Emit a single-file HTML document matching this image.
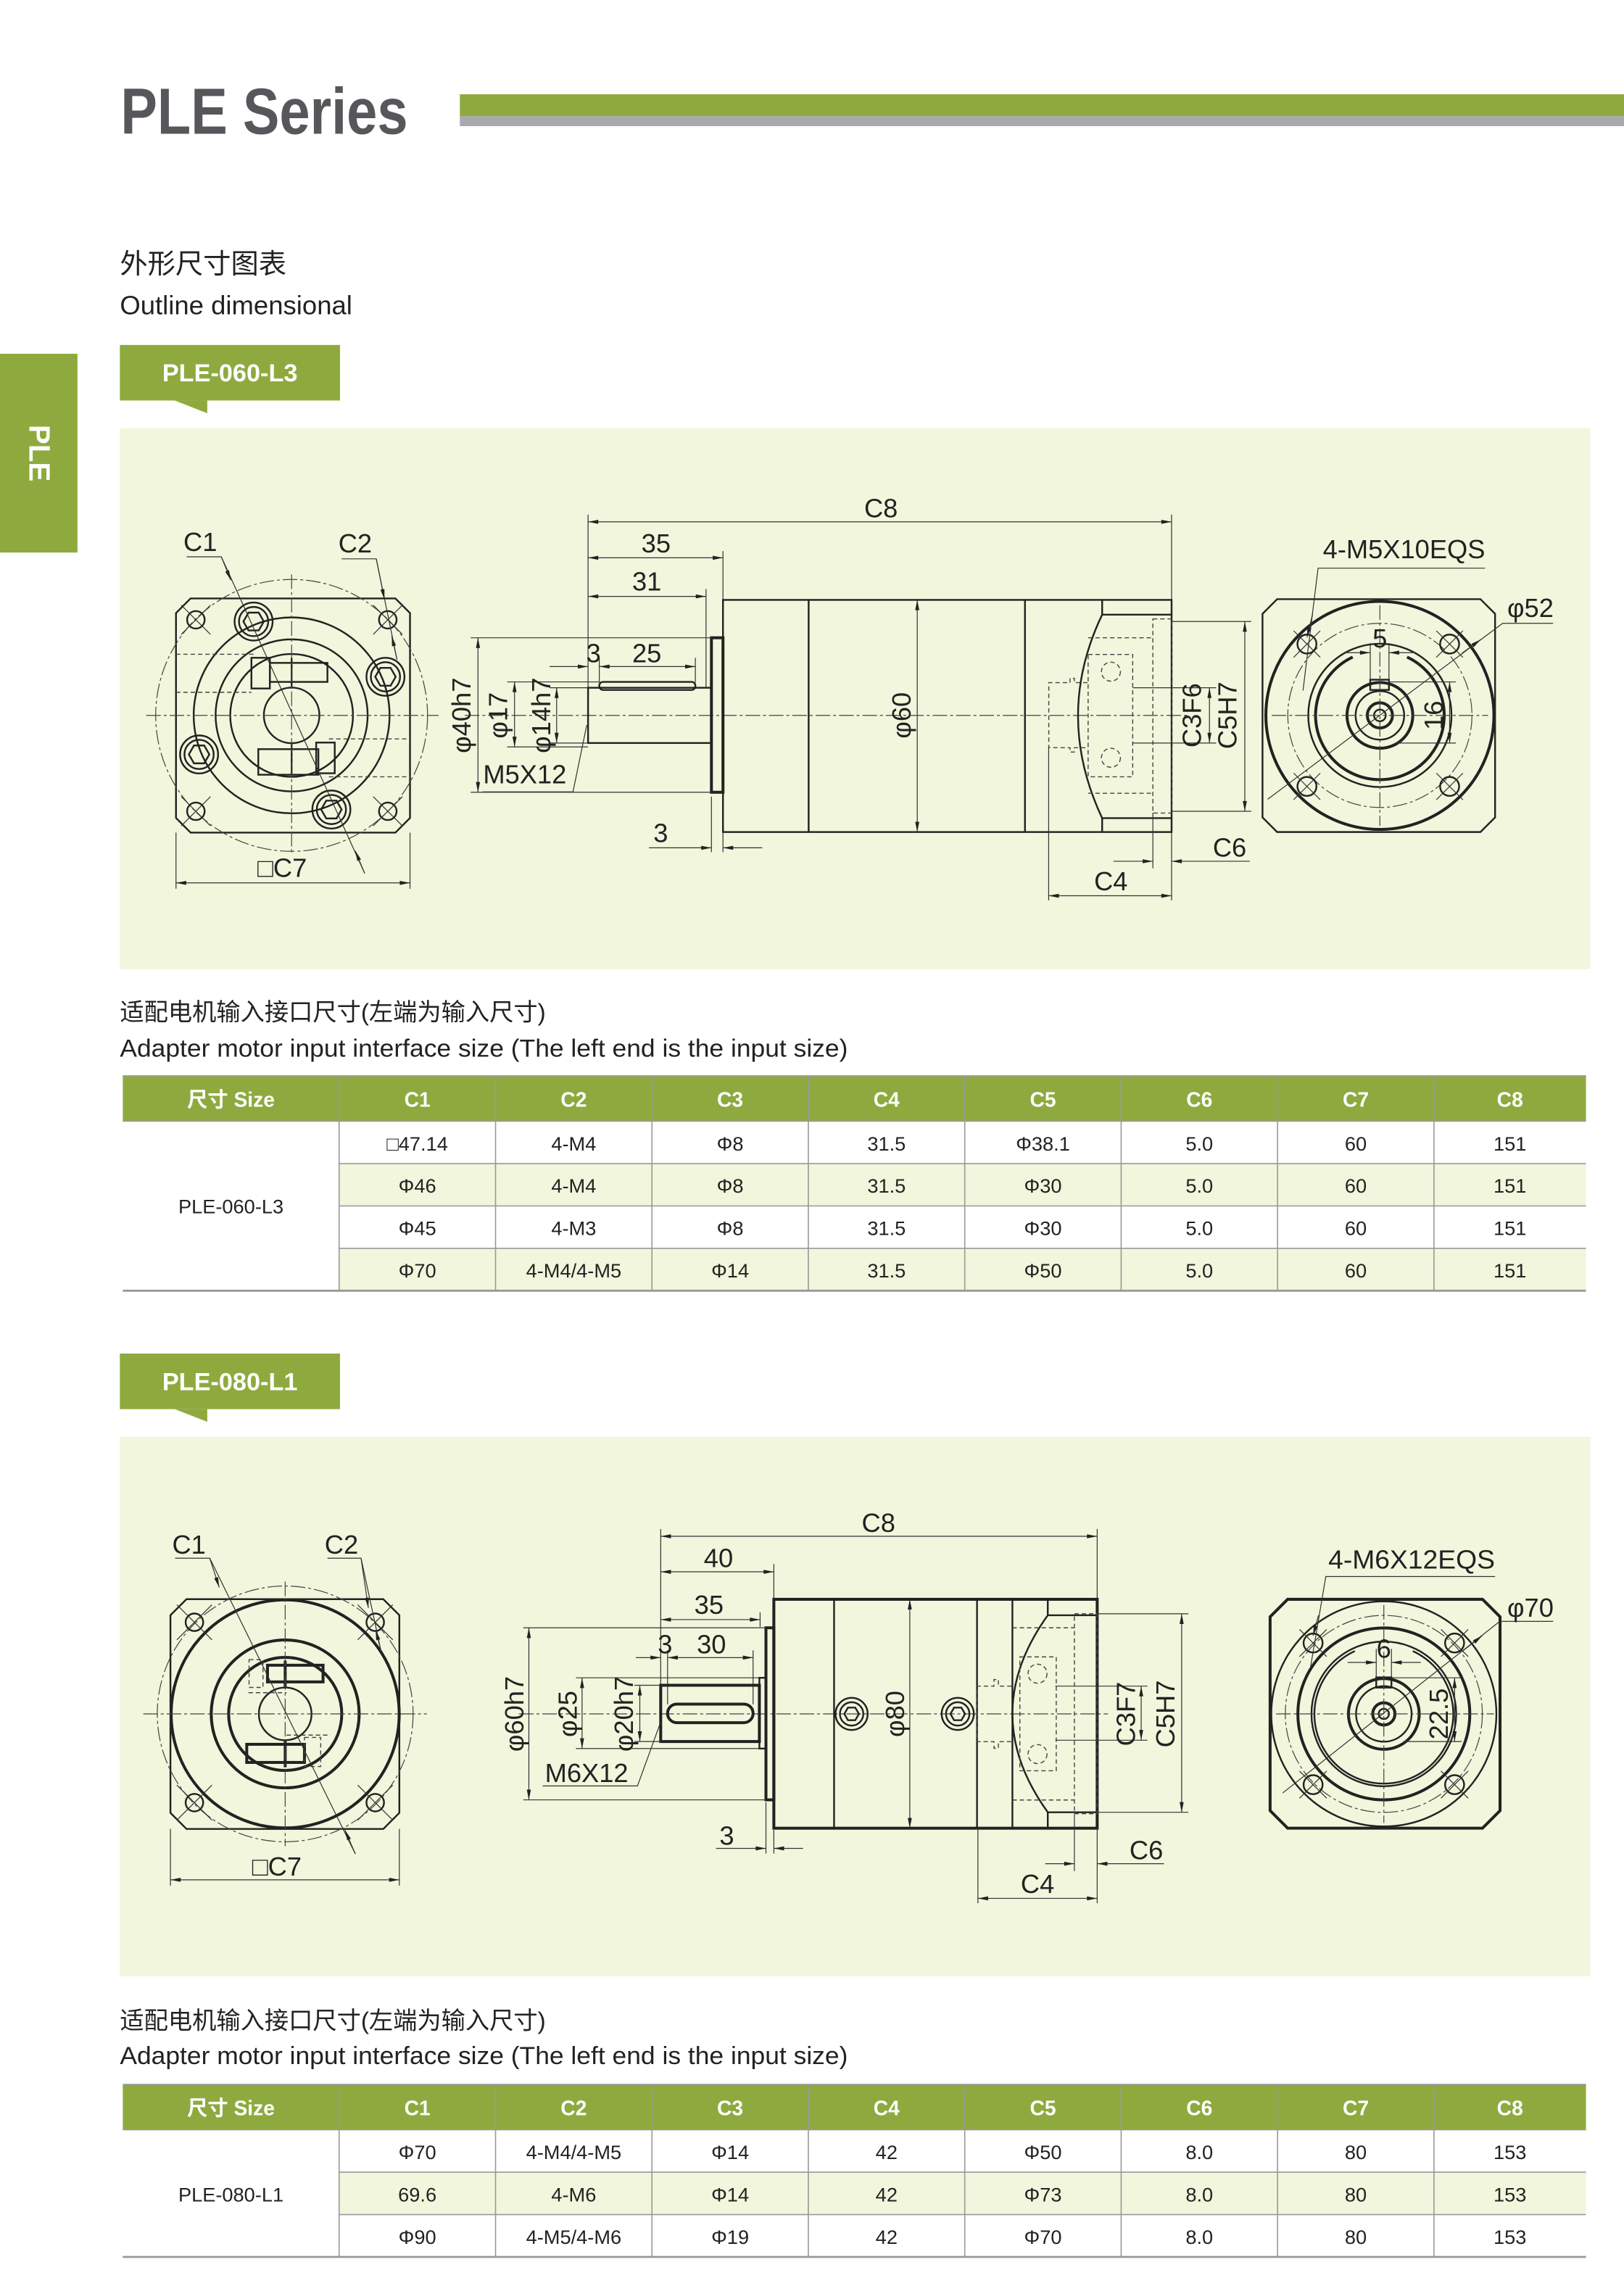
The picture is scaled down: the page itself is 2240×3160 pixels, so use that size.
<!DOCTYPE html>
<html><head><meta charset="utf-8"><style>
html,body{margin:0;padding:0;background:#fff}
svg{display:block}
text{font-family:"Liberation Sans","Noto Sans CJK SC",sans-serif}
.k{fill:none;stroke:#222;stroke-width:1.2}
.T{fill:none;stroke:#222;stroke-width:2}
.n{fill:none;stroke:#333;stroke-width:0.6}
.d{fill:none;stroke:#444;stroke-width:0.7;stroke-dasharray:3 2}
.c{fill:none;stroke:#444;stroke-width:0.6;stroke-dasharray:10 2 2 2}
.dm{fill:none;stroke:#333;stroke-width:0.6;marker-start:url(#a);marker-end:url(#a)}
.de{fill:none;stroke:#333;stroke-width:0.6;marker-end:url(#a)}
.L{font-size:18px;fill:#222}
.th{font-size:14px;fill:#fff;font-weight:bold}
.td{font-size:13.5px;fill:#222}
</style></head><body>
<svg width="2240" height="3160" viewBox="0 0 1111 1567.3" preserveAspectRatio="none" xmlns="http://www.w3.org/2000/svg">
<defs>
<marker id="a" viewBox="0 0 10 4" refX="10" refY="2" markerWidth="8" markerHeight="2.8" markerUnits="userSpaceOnUse" orient="auto-start-reverse"><path d="M0,0L10,2L0,4z" fill="#222"/></marker>
</defs>
<rect width="1111" height="1567.3" fill="#fff"/>
<!-- header -->
<text x="82.5" y="91.5" font-size="44.6" font-weight="bold" fill="#55575a" textLength="196.5" lengthAdjust="spacingAndGlyphs">PLE Series</text>
<rect x="314.6" y="64.5" width="796.4" height="15" fill="#8eaa3e"/>
<rect x="314.6" y="79.5" width="796.4" height="6.8" fill="#a7a9ac"/>
<rect x="0" y="242" width="53" height="136" fill="#8eaa3e"/>
<text x="0" y="0" transform="translate(20,310) rotate(90)" font-size="20" font-weight="bold" fill="#fff" text-anchor="middle">PLE</text>
<text x="82" y="187" font-size="19" fill="#222">外形尺寸图表</text>
<text x="82" y="215" font-size="18" fill="#222" textLength="159" lengthAdjust="spacingAndGlyphs">Outline dimensional</text>

<!-- label 1 -->
<rect x="82" y="236" width="150.6" height="38" fill="#8eaa3e"/>
<path d="M119.6,274L141.8,274L141.8,282.7z" fill="#8eaa3e"/>
<text x="157.3" y="261" font-size="17" font-weight="bold" fill="#fff" text-anchor="middle">PLE-060-L3</text>
<rect x="82" y="293" width="1006" height="370" fill="#f1f6dc"/>

<!-- DRAWING 1 left view -->
<g>
<polygon class="k" points="130.4,409.4 270.5,409.4 280.5,419.4 280.5,559.6 270.5,569.6 130.4,569.6 120.4,559.6 120.4,419.4"/>
<circle class="c" cx="199.5" cy="489.4" r="93"/>
<circle class="k" cx="199.5" cy="489.4" r="67"/>
<circle class="k" cx="199.5" cy="489.4" r="52"/>
<circle class="k" cx="199.5" cy="489.4" r="42"/>
<circle class="k" cx="199.5" cy="489.4" r="19"/>
<line class="d" x1="120.4" y1="447.6" x2="175" y2="447.6"/><line class="d" x1="120.4" y1="473.6" x2="172" y2="473.6"/>
<line class="d" x1="225" y1="505.5" x2="280.5" y2="505.5"/><line class="d" x1="225" y1="531.4" x2="280.5" y2="531.4"/>
<rect class="k" x="172" y="450" width="12.6" height="21"/><rect class="k" x="184.6" y="453.5" width="39.4" height="13"/>
<rect class="k" x="176.7" y="512.5" width="41.1" height="17.5"/><rect class="k" x="216.3" y="508" width="12.7" height="21"/>
<line class="k" x1="199.5" y1="450" x2="199.5" y2="471"/><line class="k" x1="199.5" y1="508" x2="199.5" y2="530"/>
<g id="hx1">
<circle class="k" cx="173.5" cy="425.2" r="13"/><circle class="k" cx="173.5" cy="425.2" r="10"/>
<polygon class="k" points="180.5,425.2 177,419.1 170,419.1 166.5,425.2 170,431.3 177,431.3"/>
</g>
<use href="#hx1" x="90.2" y="37.8"/><use href="#hx1" x="-37.3" y="90.9"/><use href="#hx1" x="53.2" y="128.6"/>
<g id="cr1">
<circle class="k" cx="134" cy="424" r="6"/><line class="n" x1="124" y1="414" x2="144" y2="434"/><line class="n" x1="144" y1="414" x2="124" y2="434"/>
</g>
<use href="#cr1" x="131.3" y="0"/><use href="#cr1" x="0" y="131"/><use href="#cr1" x="131.3" y="131"/>
<line class="c" x1="100" y1="489.4" x2="300" y2="489.4"/>
<line class="c" x1="199.5" y1="393" x2="199.5" y2="585"/>
<polyline class="n" points="127.7,380.9 151.4,380.9 249.5,597.5"/>
<line class="de" x1="151.4" y1="380.9" x2="158" y2="397"/>
<line class="de" x1="249.5" y1="597.5" x2="243" y2="582"/>
<polyline class="n" points="233.7,382.3 257.4,382.3 271.6,451.2"/>
<line class="de" x1="257.4" y1="382.3" x2="263" y2="410"/>
<line class="de" x1="271.6" y1="451.2" x2="268" y2="435"/>
<text class="L" x="137" y="377" text-anchor="middle">C1</text>
<text class="L" x="243" y="378" text-anchor="middle">C2</text>
<line class="n" x1="120.4" y1="569.6" x2="120.4" y2="608"/><line class="n" x1="280.5" y1="569.6" x2="280.5" y2="608"/>
<line class="dm" x1="120.4" y1="604" x2="280.5" y2="604"/>
<text class="L" x="193" y="600" text-anchor="middle">□C7</text>
</g>

<!-- DRAWING 1 side view -->
<g>
<line class="c" x1="318" y1="489.4" x2="812" y2="489.4"/>
<line class="n" x1="402.3" y1="352" x2="402.3" y2="470"/>
<line class="n" x1="801.5" y1="352" x2="801.5" y2="410"/>
<line class="dm" x1="402.3" y1="357" x2="801.5" y2="357"/>
<text class="L" x="602.7" y="354" text-anchor="middle">C8</text>
<line class="n" x1="494.6" y1="377" x2="494.6" y2="410"/>
<line class="dm" x1="402.3" y1="381.6" x2="494.6" y2="381.6"/>
<text class="L" x="448.8" y="378" text-anchor="middle">35</text>
<line class="n" x1="483" y1="403" x2="483" y2="470"/>
<line class="dm" x1="402.3" y1="408" x2="483" y2="408"/>
<text class="L" x="442.5" y="404" text-anchor="middle">31</text>
<line class="n" x1="410" y1="450" x2="410" y2="467"/><line class="n" x1="475.7" y1="450" x2="475.7" y2="467"/>
<line class="de" x1="376" y1="456" x2="402.3" y2="456"/>
<line class="dm" x1="410" y1="456" x2="475.7" y2="456"/>
<text class="L" x="406" y="453" text-anchor="middle">3</text>
<text class="L" x="442.5" y="453" text-anchor="middle">25</text>
<rect class="k" x="402.3" y="470.5" width="84.4" height="37.8"/>
<rect class="k" x="410" y="466.5" width="65.7" height="5.5" rx="2.5"/>
<rect class="T" x="486.7" y="436.3" width="7.9" height="105.7"/>
<rect class="k" x="494.6" y="410.4" width="306.9" height="158.8"/>
<line class="k" x1="553.2" y1="410.4" x2="553.2" y2="569.2"/>
<line class="k" x1="701.2" y1="410.4" x2="701.2" y2="569.2"/>
<line class="k" x1="754" y1="410.4" x2="754" y2="420.5"/><line class="k" x1="754" y1="559.7" x2="754" y2="569.2"/>
<line class="k" x1="754" y1="420.5" x2="801.5" y2="420.5"/><line class="k" x1="754" y1="559.7" x2="801.5" y2="559.7"/>
<path class="k" d="M754,420.5 Q721,489.4 754,559.7"/>
<rect class="d" x="788.7" y="423.4" width="12.8" height="132.8"/>
<path class="d" d="M744.4,436.3 H788.7 M744.4,542.7 H788.7"/>
<rect class="d" x="744.4" y="447.7" width="30.5" height="83.7"/>
<circle class="d" cx="760" cy="459.5" r="6.5"/><circle class="d" cx="760" cy="518.4" r="6.5"/>
<path class="d" d="M744,467 H735 V464 H732 V467 H717.5 V511.5 H732 V514.5 H735 V511.5 H744"/>
<line class="n" x1="774.9" y1="470.5" x2="832" y2="470.5"/><line class="n" x1="774.9" y1="508.3" x2="832" y2="508.3"/>
<line class="n" x1="801.5" y1="425.2" x2="856" y2="425.2"/><line class="n" x1="801.5" y1="555" x2="856" y2="555"/>
<line class="dm" x1="827.4" y1="470.5" x2="827.4" y2="508.3"/>
<line class="dm" x1="851.6" y1="425.2" x2="851.6" y2="555"/>
<text class="L" transform="translate(821.5,489.4) rotate(-90)" text-anchor="middle">C3F6</text>
<text class="L" transform="translate(846,489.4) rotate(-90)" text-anchor="middle">C5H7</text>
<line class="dm" x1="627.5" y1="410.4" x2="627.5" y2="569.2"/>
<text class="L" transform="translate(623,489.4) rotate(-90)" text-anchor="middle">φ60</text>
<line class="n" x1="717.4" y1="511" x2="717.4" y2="616"/>
<line class="n" x1="788.7" y1="556" x2="788.7" y2="594"/>
<line class="n" x1="801.5" y1="569.2" x2="801.5" y2="616"/>
<line class="de" x1="761.7" y1="589.2" x2="788.7" y2="589.2"/>
<line class="de" x1="855" y1="589.2" x2="801.5" y2="589.2"/>
<text class="L" x="841.2" y="586" text-anchor="middle">C6</text>
<line class="dm" x1="717.4" y1="612.8" x2="801.5" y2="612.8"/>
<text class="L" x="760" y="609" text-anchor="middle">C4</text>
<line class="n" x1="322" y1="436.3" x2="486.7" y2="436.3"/><line class="n" x1="322" y1="542" x2="486.7" y2="542"/>
<line class="dm" x1="327" y1="436.3" x2="327" y2="542"/>
<text class="L" transform="translate(322,489.4) rotate(-90)" text-anchor="middle">φ40h7</text>
<line class="n" x1="347" y1="466.5" x2="410" y2="466.5"/><line class="n" x1="347" y1="511" x2="402.3" y2="511"/>
<line class="dm" x1="352" y1="466.5" x2="352" y2="511"/>
<text class="L" transform="translate(347,489.4) rotate(-90)" text-anchor="middle">φ17</text>
<line class="n" x1="376" y1="470.5" x2="402.3" y2="470.5"/><line class="n" x1="376" y1="508.3" x2="402.3" y2="508.3"/>
<line class="dm" x1="380.8" y1="470.5" x2="380.8" y2="508.3"/>
<text class="L" transform="translate(376.5,489.4) rotate(-90)" text-anchor="middle">φ14h7</text>
<polyline class="n" points="330,541.7 392,541.7 401.4,496"/>
<text class="L" x="359" y="536" text-anchor="middle">M5X12</text>
<line class="n" x1="486.7" y1="545" x2="486.7" y2="583"/><line class="n" x1="494.6" y1="569" x2="494.6" y2="583"/>
<line class="de" x1="444" y1="580" x2="486.7" y2="580"/>
<line class="de" x1="521.5" y1="580" x2="494.6" y2="580"/>
<text class="L" x="452" y="576" text-anchor="middle">3</text>
</g>

<!-- DRAWING 1 right view -->
<g>
<polygon class="k" points="873.7,409.9 1012.8,409.9 1022.8,419.9 1022.8,559.2 1012.8,569.2 873.7,569.2 863.7,559.2 863.7,419.9"/>
<circle class="T" cx="944" cy="489.4" r="78"/>
<circle class="c" cx="944" cy="489.4" r="63"/>
<circle class="k" cx="944" cy="489.4" r="49"/>
<path class="T" d="M962.6,449.5 A44,44 0 1 1 925.4,449.5"/>
<circle class="T" cx="944" cy="489.4" r="22.5"/>
<circle class="k" cx="944" cy="489.4" r="16.6"/>
<circle class="T" cx="944" cy="489.4" r="8.6"/>
<circle class="k" cx="944" cy="489.4" r="4"/>
<rect class="k" x="937.4" y="465" width="12.8" height="7"/>
<line class="c" x1="870" y1="489.4" x2="1018" y2="489.4"/>
<line class="c" x1="944" y1="414" x2="944" y2="565"/>
<g id="bh1"><circle class="k" cx="894.1" cy="440.6" r="6.5"/><line class="n" x1="885" y1="431.5" x2="903.2" y2="449.7"/><line class="n" x1="903.2" y1="431.5" x2="885" y2="449.7"/></g>
<use href="#bh1" x="97.6" y="0"/><use href="#bh1" x="0" y="97.4"/><use href="#bh1" x="97.6" y="97.4"/>
<polyline class="n" points="1015.9,388.7 901.7,388.7 891.4,472.4"/>
<line class="de" x1="898" y1="420" x2="894.1" y2="436"/>
<text class="L" x="960.5" y="382" text-anchor="middle" textLength="111" lengthAdjust="spacingAndGlyphs">4-M5X10EQS</text>
<polyline class="n" points="1062.5,426.4 1028,426.4 867.2,546.8"/>
<line class="de" x1="1000" y1="447" x2="1013" y2="437.5"/>
<text class="L" x="1047" y="422" text-anchor="middle">φ52</text>
<line class="n" x1="937.4" y1="440" x2="937.4" y2="466"/><line class="n" x1="950.2" y1="440" x2="950.2" y2="466"/>
<line class="de" x1="920" y1="446.5" x2="937.4" y2="446.5"/><line class="de" x1="968" y1="446.5" x2="950.2" y2="446.5"/>
<text class="L" x="944" y="443" text-anchor="middle">5</text>
<line class="n" x1="950" y1="466.5" x2="996" y2="466.5"/><line class="n" x1="955" y1="508.3" x2="996" y2="508.3"/>
<line class="dm" x1="991.7" y1="466.5" x2="991.7" y2="508.3"/>
<text class="L" transform="translate(987,489.4) rotate(-90)" text-anchor="middle">16</text>
</g>

<!-- Table 1 -->
<text x="82" y="698" font-size="16.5" fill="#222">适配电机输入接口尺寸(左端为输入尺寸)</text>
<text x="82" y="723" font-size="17" fill="#222" textLength="498" lengthAdjust="spacingAndGlyphs">Adapter motor input interface size (The left end is the input size)</text>
<g>
<rect x="84" y="736" width="1001" height="31" fill="#8eaa3e"/>
<rect x="232" y="796" width="853" height="29" fill="#f1f6dc"/>
<rect x="232" y="854" width="853" height="29" fill="#f1f6dc"/>
<g stroke="#999" stroke-width="0.8">
<line x1="84" y1="736" x2="1085" y2="736"/><line x1="84" y1="767" x2="1085" y2="767"/>
<line x1="232" y1="796" x2="1085" y2="796"/><line x1="232" y1="825" x2="1085" y2="825"/><line x1="232" y1="854" x2="1085" y2="854"/>
<line x1="84" y1="883" x2="1085" y2="883" stroke-width="1.4"/>
<line x1="232" y1="736" x2="232" y2="883"/><line x1="339" y1="736" x2="339" y2="883"/><line x1="446" y1="736" x2="446" y2="883"/><line x1="553" y1="736" x2="553" y2="883"/><line x1="660" y1="736" x2="660" y2="883"/><line x1="767" y1="736" x2="767" y2="883"/><line x1="874" y1="736" x2="874" y2="883"/><line x1="981" y1="736" x2="981" y2="883"/>
</g>
<g class="th" text-anchor="middle">
<text x="158" y="757">尺寸 Size</text><text x="285.5" y="757">C1</text><text x="392.5" y="757">C2</text><text x="499.5" y="757">C3</text><text x="606.5" y="757">C4</text><text x="713.5" y="757">C5</text><text x="820.5" y="757">C6</text><text x="927.5" y="757">C7</text><text x="1033" y="757">C8</text>
</g>
<g class="td" text-anchor="middle">
<text x="158" y="830">PLE-060-L3</text>
<text x="285.5" y="787">□47.14</text><text x="392.5" y="787">4-M4</text><text x="499.5" y="787">Φ8</text><text x="606.5" y="787">31.5</text><text x="713.5" y="787">Φ38.1</text><text x="820.5" y="787">5.0</text><text x="927.5" y="787">60</text><text x="1033" y="787">151</text>
<text x="285.5" y="816">Φ46</text><text x="392.5" y="816">4-M4</text><text x="499.5" y="816">Φ8</text><text x="606.5" y="816">31.5</text><text x="713.5" y="816">Φ30</text><text x="820.5" y="816">5.0</text><text x="927.5" y="816">60</text><text x="1033" y="816">151</text>
<text x="285.5" y="845">Φ45</text><text x="392.5" y="845">4-M3</text><text x="499.5" y="845">Φ8</text><text x="606.5" y="845">31.5</text><text x="713.5" y="845">Φ30</text><text x="820.5" y="845">5.0</text><text x="927.5" y="845">60</text><text x="1033" y="845">151</text>
<text x="285.5" y="874">Φ70</text><text x="392.5" y="874">4-M4/4-M5</text><text x="499.5" y="874">Φ14</text><text x="606.5" y="874">31.5</text><text x="713.5" y="874">Φ50</text><text x="820.5" y="874">5.0</text><text x="927.5" y="874">60</text><text x="1033" y="874">151</text>
</g>
</g>

<!-- label 2 -->
<rect x="82" y="926" width="150.6" height="38" fill="#8eaa3e"/>
<path d="M119.6,964L141.8,964L141.8,972.7z" fill="#8eaa3e"/>
<text x="157.3" y="951" font-size="17" font-weight="bold" fill="#fff" text-anchor="middle">PLE-080-L1</text>
<rect x="82" y="983" width="1006" height="369" fill="#f1f6dc"/>

<!-- DRAWING 2 left view -->
<g>
<polygon class="k" points="127.6,1094 262.2,1094 273.2,1105 273.2,1240.2 262.2,1251.2 127.6,1251.2 116.6,1240.2 116.6,1105"/>
<circle class="c" cx="195.1" cy="1172.5" r="87.5"/>
<circle class="T" cx="195.1" cy="1172.5" r="78"/>
<circle class="T" cx="195.1" cy="1172.5" r="50.6"/>
<circle class="T" cx="195.1" cy="1172.5" r="38.7"/>
<circle class="k" cx="195.1" cy="1172.5" r="18"/>
<rect class="d" x="170.4" y="1135.4" width="9.5" height="19"/>
<rect class="T" x="183" y="1139.2" width="38" height="11.4"/>
<rect class="T" x="168.8" y="1193.3" width="39.5" height="12.4"/>
<rect class="d" x="208.3" y="1188.6" width="11.1" height="19.9"/>
<line class="d" x1="170" y1="1158" x2="196" y2="1158"/><line class="d" x1="196" y1="1187" x2="224" y2="1187"/>
<line class="T" x1="195.1" y1="1136" x2="195.1" y2="1154"/><line class="T" x1="195.1" y1="1191" x2="195.1" y2="1209"/>
<g id="cr2"><circle class="k" cx="133" cy="1109.8" r="6"/><line class="n" x1="121" y1="1097.8" x2="145" y2="1121.8"/><line class="n" x1="145" y1="1097.8" x2="121" y2="1121.8"/></g>
<use href="#cr2" x="123.7" y="0"/><use href="#cr2" x="0" y="123.4"/><use href="#cr2" x="123.7" y="123.4"/>
<line class="c" x1="98" y1="1172.5" x2="292" y2="1172.5"/>
<line class="c" x1="195.1" y1="1082" x2="195.1" y2="1263"/>
<polyline class="n" points="119.8,1066 143.5,1066 243.1,1268.3"/>
<line class="de" x1="143.5" y1="1066" x2="150" y2="1086"/>
<line class="de" x1="243.1" y1="1268.3" x2="236" y2="1252"/>
<polyline class="n" points="224,1066 247,1066 260.5,1128.8"/>
<line class="de" x1="247" y1="1066" x2="252" y2="1100"/>
<line class="de" x1="260.5" y1="1128.8" x2="257" y2="1115"/>
<text class="L" x="129.3" y="1063" text-anchor="middle">C1</text>
<text class="L" x="233.6" y="1063" text-anchor="middle">C2</text>
<line class="n" x1="116.6" y1="1251.2" x2="116.6" y2="1290"/><line class="n" x1="273.2" y1="1251.2" x2="273.2" y2="1290"/>
<line class="dm" x1="116.6" y1="1286" x2="273.2" y2="1286"/>
<text class="L" x="189.4" y="1283" text-anchor="middle">□C7</text>
</g>

<!-- DRAWING 2 side view -->
<g>
<line class="c" x1="355" y1="1172.5" x2="758" y2="1172.5"/>
<line class="n" x1="452" y1="1046" x2="452" y2="1153"/>
<line class="n" x1="750.6" y1="1046" x2="750.6" y2="1094"/>
<line class="dm" x1="452" y1="1051" x2="750.6" y2="1051"/>
<text class="L" x="601" y="1048" text-anchor="middle">C8</text>
<line class="n" x1="529.4" y1="1070" x2="529.4" y2="1094"/>
<line class="dm" x1="452" y1="1075.3" x2="529.4" y2="1075.3"/>
<text class="L" x="491.5" y="1072" text-anchor="middle">40</text>
<line class="n" x1="520" y1="1103" x2="520" y2="1113"/>
<line class="dm" x1="452" y1="1108" x2="520" y2="1108"/>
<text class="L" x="485" y="1104" text-anchor="middle">35</text>
<line class="n" x1="456.7" y1="1129" x2="456.7" y2="1166"/><line class="n" x1="515.2" y1="1129" x2="515.2" y2="1166"/>
<line class="de" x1="435" y1="1134" x2="452" y2="1134"/>
<line class="dm" x1="456.7" y1="1134" x2="515.2" y2="1134"/>
<text class="L" x="455" y="1131" text-anchor="middle">3</text>
<text class="L" x="486.7" y="1131" text-anchor="middle">30</text>
<rect class="T" x="452" y="1152.9" width="67.5" height="38.5"/>
<rect class="T" x="456.7" y="1165.8" width="58.5" height="12.7" rx="6.3"/>
<rect class="k" x="519.5" y="1147.8" width="4.5" height="48.4"/>
<rect class="T" x="524" y="1113.6" width="5.4" height="117.7"/>
<rect class="T" x="529.4" y="1094.1" width="221.2" height="156.6"/>
<line class="k" x1="570.6" y1="1094.1" x2="570.6" y2="1250.7"/>
<line class="k" x1="668.4" y1="1094.1" x2="668.4" y2="1250.7"/>
<line class="k" x1="692.6" y1="1094.1" x2="692.6" y2="1250.7"/>
<line class="k" x1="716.8" y1="1094.1" x2="716.8" y2="1105"/><line class="k" x1="716.8" y1="1239.8" x2="716.8" y2="1250.7"/>
<line class="k" x1="716.8" y1="1105" x2="750.6" y2="1105"/><line class="k" x1="716.8" y1="1239.8" x2="750.6" y2="1239.8"/>
<path class="k" d="M716.8,1105 Q668.4,1172.5 716.8,1239.8"/>
<g id="hb2"><circle class="k" cx="582.6" cy="1172.5" r="11"/><circle class="k" cx="582.6" cy="1172.5" r="8"/><polygon class="k" points="587.6,1172.5 585.1,1168.2 580.1,1168.2 577.6,1172.5 580.1,1176.8 585.1,1176.8"/></g>
<use href="#hb2" x="72.6" y="0"/>
<rect class="d" x="735" y="1104" width="15.6" height="136.8"/>
<path class="d" d="M692.6,1113.6 H735 M692.6,1231.4 H735"/>
<rect class="d" x="697.7" y="1133.5" width="24.9" height="77.9"/>
<circle class="d" cx="709.8" cy="1145" r="6.5"/><circle class="d" cx="709.8" cy="1200" r="6.5"/>
<path class="d" d="M692,1153.5 H683 V1149 H680 V1153.5 H668.4 V1191.5 H680 V1196 H683 V1191.5 H692"/>
<line class="n" x1="722" y1="1153.5" x2="785" y2="1153.5"/><line class="n" x1="722" y1="1190.5" x2="785" y2="1190.5"/>
<line class="n" x1="750.6" y1="1104" x2="813" y2="1104"/><line class="n" x1="750.6" y1="1239.8" x2="813" y2="1239.8"/>
<line class="dm" x1="780.7" y1="1153.5" x2="780.7" y2="1190.5"/>
<line class="dm" x1="808.4" y1="1104" x2="808.4" y2="1239.8"/>
<text class="L" transform="translate(776.5,1172.5) rotate(-90)" text-anchor="middle">C3F7</text>
<text class="L" transform="translate(803.5,1172.5) rotate(-90)" text-anchor="middle">C5H7</text>
<line class="dm" x1="622.4" y1="1094.1" x2="622.4" y2="1250.7"/>
<text class="L" transform="translate(618.5,1172.5) rotate(-90)" text-anchor="middle">φ80</text>
<line class="n" x1="669" y1="1250.7" x2="669" y2="1302"/>
<line class="n" x1="735" y1="1241" x2="735" y2="1280"/>
<line class="n" x1="750.6" y1="1250.7" x2="750.6" y2="1302"/>
<line class="de" x1="715" y1="1275" x2="735" y2="1275"/>
<line class="de" x1="796.3" y1="1275" x2="750.6" y2="1275"/>
<text class="L" x="784.2" y="1272" text-anchor="middle">C6</text>
<line class="dm" x1="669" y1="1298.7" x2="750.6" y2="1298.7"/>
<text class="L" x="709.8" y="1295" text-anchor="middle">C4</text>
<line class="n" x1="358" y1="1113.6" x2="524" y2="1113.6"/><line class="n" x1="358" y1="1231.3" x2="524" y2="1231.3"/>
<line class="dm" x1="361.8" y1="1113.6" x2="361.8" y2="1231.3"/>
<text class="L" transform="translate(358,1172.5) rotate(-90)" text-anchor="middle">φ60h7</text>
<line class="n" x1="394" y1="1147.8" x2="519.5" y2="1147.8"/><line class="n" x1="394" y1="1196.2" x2="519.5" y2="1196.2"/>
<line class="dm" x1="398.2" y1="1147.8" x2="398.2" y2="1196.2"/>
<text class="L" transform="translate(394.5,1172.5) rotate(-90)" text-anchor="middle">φ25</text>
<line class="n" x1="434" y1="1152.9" x2="452" y2="1152.9"/><line class="n" x1="434" y1="1191.4" x2="452" y2="1191.4"/>
<line class="dm" x1="437.7" y1="1152.9" x2="437.7" y2="1191.4"/>
<text class="L" transform="translate(433,1172.5) rotate(-90)" text-anchor="middle">φ20h7</text>
<polyline class="n" points="371.3,1221.8 436.1,1221.8 452,1178"/>
<text class="L" x="401.3" y="1219" text-anchor="middle">M6X12</text>
<line class="n" x1="524" y1="1233" x2="524" y2="1268"/><line class="n" x1="529.4" y1="1252" x2="529.4" y2="1268"/>
<line class="de" x1="489.9" y1="1264.5" x2="524" y2="1264.5"/>
<line class="de" x1="549.4" y1="1264.5" x2="529.4" y2="1264.5"/>
<text class="L" x="497.2" y="1262" text-anchor="middle">3</text>
</g>

<!-- DRAWING 2 right view -->
<g>
<polygon class="T" points="880.9,1094.1 1014.2,1094.1 1026.2,1106.1 1026.2,1238.7 1014.2,1250.7 880.9,1250.7 868.9,1238.7 868.9,1106.1"/>
<circle class="k" cx="946.7" cy="1172.5" r="77"/>
<circle class="c" cx="946.7" cy="1172.5" r="67.4"/>
<circle class="T" cx="946.7" cy="1172.5" r="58.8"/>
<circle class="k" cx="946.7" cy="1172.5" r="49.5"/>
<path class="k" d="M966.5,1129.5 A47.5,47.5 0 1 1 926.9,1129.5"/>
<circle class="T" cx="946.7" cy="1172.5" r="24.2"/>
<circle class="k" cx="946.7" cy="1172.5" r="19"/>
<circle class="T" cx="946.7" cy="1172.5" r="7.6"/>
<circle class="k" cx="946.7" cy="1172.5" r="3.5"/>
<rect class="k" x="941.5" y="1147.5" width="10.4" height="7"/>
<line class="c" x1="873" y1="1172.5" x2="1022" y2="1172.5"/>
<line class="c" x1="946.7" y1="1098" x2="946.7" y2="1247"/>
<g id="bh2"><circle class="k" cx="898.3" cy="1124" r="6.5"/><line class="n" x1="889" y1="1114.7" x2="907.6" y2="1133.3"/><line class="n" x1="907.6" y1="1114.7" x2="889" y2="1133.3"/></g>
<use href="#bh2" x="96.8" y="0"/><use href="#bh2" x="0" y="96.9"/><use href="#bh2" x="96.8" y="96.9"/>
<polyline class="n" points="1022.8,1078.5 907,1078.5 896.6,1140.2"/>
<line class="de" x1="902" y1="1105" x2="898.3" y2="1119"/>
<text class="L" x="965.7" y="1073" text-anchor="middle" textLength="114" lengthAdjust="spacingAndGlyphs">4-M6X12EQS</text>
<polyline class="n" points="1062.5,1109.2 1026,1109.2 877.5,1226.6"/>
<line class="de" x1="1000" y1="1130" x2="1014" y2="1119"/>
<text class="L" x="1047" y="1106" text-anchor="middle">φ70</text>
<line class="n" x1="941.5" y1="1128" x2="941.5" y2="1148"/><line class="n" x1="951.9" y1="1128" x2="951.9" y2="1148"/>
<line class="de" x1="922" y1="1137.3" x2="941.5" y2="1137.3"/><line class="de" x1="972" y1="1137.3" x2="951.9" y2="1137.3"/>
<text class="L" x="946.7" y="1134" text-anchor="middle">6</text>
<line class="n" x1="952" y1="1147.8" x2="1000" y2="1147.8"/><line class="n" x1="960" y1="1191.4" x2="1000" y2="1191.4"/>
<line class="dm" x1="995.1" y1="1147.8" x2="995.1" y2="1191.4"/>
<text class="L" transform="translate(990.5,1172.5) rotate(-90)" text-anchor="middle">22.5</text>
</g>

<!-- Table 2 -->
<text x="82" y="1388" font-size="16.5" fill="#222">适配电机输入接口尺寸(左端为输入尺寸)</text>
<text x="82" y="1412" font-size="17" fill="#222" textLength="498" lengthAdjust="spacingAndGlyphs">Adapter motor input interface size (The left end is the input size)</text>
<g>
<rect x="84" y="1426" width="1001" height="31" fill="#8eaa3e"/>
<rect x="232" y="1486" width="853" height="29" fill="#f1f6dc"/>
<g stroke="#999" stroke-width="0.8">
<line x1="84" y1="1426" x2="1085" y2="1426"/><line x1="84" y1="1457" x2="1085" y2="1457"/>
<line x1="232" y1="1486" x2="1085" y2="1486"/><line x1="232" y1="1515" x2="1085" y2="1515"/>
<line x1="84" y1="1544" x2="1085" y2="1544" stroke-width="1.4"/>
<line x1="232" y1="1426" x2="232" y2="1544"/><line x1="339" y1="1426" x2="339" y2="1544"/><line x1="446" y1="1426" x2="446" y2="1544"/><line x1="553" y1="1426" x2="553" y2="1544"/><line x1="660" y1="1426" x2="660" y2="1544"/><line x1="767" y1="1426" x2="767" y2="1544"/><line x1="874" y1="1426" x2="874" y2="1544"/><line x1="981" y1="1426" x2="981" y2="1544"/>
</g>
<g class="th" text-anchor="middle">
<text x="158" y="1447">尺寸 Size</text><text x="285.5" y="1447">C1</text><text x="392.5" y="1447">C2</text><text x="499.5" y="1447">C3</text><text x="606.5" y="1447">C4</text><text x="713.5" y="1447">C5</text><text x="820.5" y="1447">C6</text><text x="927.5" y="1447">C7</text><text x="1033" y="1447">C8</text>
</g>
<g class="td" text-anchor="middle">
<text x="158" y="1506">PLE-080-L1</text>
<text x="285.5" y="1477">Φ70</text><text x="392.5" y="1477">4-M4/4-M5</text><text x="499.5" y="1477">Φ14</text><text x="606.5" y="1477">42</text><text x="713.5" y="1477">Φ50</text><text x="820.5" y="1477">8.0</text><text x="927.5" y="1477">80</text><text x="1033" y="1477">153</text>
<text x="285.5" y="1506">69.6</text><text x="392.5" y="1506">4-M6</text><text x="499.5" y="1506">Φ14</text><text x="606.5" y="1506">42</text><text x="713.5" y="1506">Φ73</text><text x="820.5" y="1506">8.0</text><text x="927.5" y="1506">80</text><text x="1033" y="1506">153</text>
<text x="285.5" y="1535">Φ90</text><text x="392.5" y="1535">4-M5/4-M6</text><text x="499.5" y="1535">Φ19</text><text x="606.5" y="1535">42</text><text x="713.5" y="1535">Φ70</text><text x="820.5" y="1535">8.0</text><text x="927.5" y="1535">80</text><text x="1033" y="1535">153</text>
</g>
</g>
</svg>
</body></html>
